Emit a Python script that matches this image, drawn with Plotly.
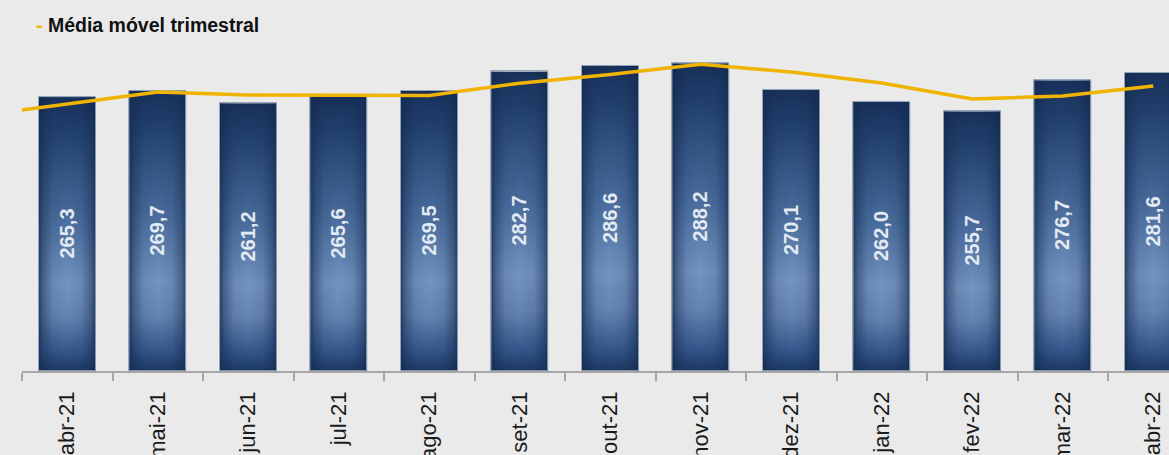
import base64
import plotly.graph_objects as go

# Monthly values (bars) and the three-month moving average (line)
months = ["mar-21", "abr-21", "mai-21", "jun-21", "jul-21", "ago-21", "set-21",
          "out-21", "nov-21", "dez-21", "jan-22", "fev-22", "mar-22", "abr-22"]
bar_months = months[1:]
bar_values = [265.3, 269.7, 261.2, 265.6, 269.5, 282.7, 286.6,
              288.2, 270.1, 262.0, 255.7, 276.7, 281.6]
avg_values = [252.5, 260.6, 268.8, 266.7, 266.5, 266.4, 274.7,
              280.6, 287.5, 282.3, 274.9, 264.0, 266.1, 272.8]
legend_label = "Média móvel trimestral"

Y_MIN, Y_MAX = 80, 331
BAR_WIDTH = 0.63
BG = "#EAEAEA"
LINE_COLOR = "#F0B400"
FONT = "Liberation Sans, Arial, sans-serif"

# Gradient fill used for each bar: dark navy top/bottom, lighter lower centre,
# darkened edges.
bar_svg = """<svg xmlns='http://www.w3.org/2000/svg' viewBox='0 0 100 100' preserveAspectRatio='none'>
<defs>
<linearGradient id='v' x1='0' y1='0' x2='0' y2='1'>
<stop offset='0' stop-color='#17305A'/>
<stop offset='0.12' stop-color='#213F6C'/>
<stop offset='0.45' stop-color='#4B6E9E'/>
<stop offset='0.68' stop-color='#7393C0'/>
<stop offset='0.8' stop-color='#6584B2'/>
<stop offset='0.93' stop-color='#34568A'/>
<stop offset='1' stop-color='#1B3761'/>
</linearGradient>
<linearGradient id='h' x1='0' y1='0' x2='1' y2='0'>
<stop offset='0' stop-color='#132a50' stop-opacity='0.8'/>
<stop offset='0.08' stop-color='#132a50' stop-opacity='0.45'/>
<stop offset='0.25' stop-color='#132a50' stop-opacity='0.1'/>
<stop offset='0.5' stop-color='#132a50' stop-opacity='0'/>
<stop offset='0.75' stop-color='#132a50' stop-opacity='0.1'/>
<stop offset='0.92' stop-color='#132a50' stop-opacity='0.45'/>
<stop offset='1' stop-color='#132a50' stop-opacity='0.8'/>
</linearGradient>
</defs>
<rect x='0' y='0' width='100' height='100' fill='url(#v)'/>
<rect x='0' y='0' width='100' height='100' fill='url(#h)'/>
</svg>"""
bar_src = "data:image/svg+xml;base64," + base64.b64encode(bar_svg.encode()).decode()

fig = go.Figure()

# Bars rise from the axis floor, so each bar's length is its value above Y_MIN
fig.add_trace(go.Bar(
    x=bar_months, y=[v - Y_MIN for v in bar_values], base=Y_MIN,
    customdata=bar_values, width=BAR_WIDTH,
    marker=dict(color="rgba(0,0,0,0)", line=dict(color="rgba(140,158,182,0.9)", width=1)),
    texttemplate="%{customdata:.1f}", textposition="inside", insidetextanchor="middle",
    textangle=-90, textfont=dict(family=FONT, size=20, color="#E4EAF2", weight="bold"),
    showlegend=False, hoverinfo="skip",
))

fig.add_trace(go.Scatter(
    x=months, y=avg_values, mode="lines",
    line=dict(color=LINE_COLOR, width=3.5),
    showlegend=False, hoverinfo="skip",
))

images = []
for m, v in zip(bar_months, bar_values):
    images.append(dict(
        source=bar_src, xref="x", yref="y",
        x=months.index(m), y=v, sizex=BAR_WIDTH, sizey=v - Y_MIN,
        xanchor="center", yanchor="top", sizing="stretch", layer="below",
    ))

W, H = 1169, 455
L, B = 22, 84
plot_w, plot_h = W - L, H - B
cat_px = 90.5

fig.update_layout(
    width=W, height=H,
    margin=dict(l=L, r=0, t=0, b=B, pad=0, autoexpand=False),
    paper_bgcolor=BG, plot_bgcolor=BG,
    separators=",.",
    images=images,
    bargap=0,
    font=dict(family=FONT),
    annotations=[dict(
        xref="paper", yref="paper",
        x=(34 - L) / plot_w, y=1 - 25 / plot_h,
        xanchor="left", yanchor="middle", showarrow=False,
        text=f"<span style='color:{LINE_COLOR}'><b>-</b></span> <b>{legend_label}</b>",
        font=dict(family=FONT, size=19.5, color="#111111"),
    )],
)

fig.update_xaxes(
    type="category", categoryorder="array", categoryarray=months,
    range=[0.5, 0.5 + plot_w / cat_px], automargin=False,
    showline=True, linecolor="#A6A6A6", linewidth=1.5,
    ticks="outside", tickson="boundaries", ticklen=8, tickcolor="#A6A6A6", tickwidth=1.5,
    tickangle=-90, tickfont=dict(family=FONT, size=22, color="#1A1A1A"),
    ticklabelstandoff=10,
    showgrid=False, zeroline=False,
)
fig.update_yaxes(
    range=[Y_MIN, Y_MAX], visible=False, showgrid=False, zeroline=False,
    automargin=False,
)

fig.write_html("out.html")
